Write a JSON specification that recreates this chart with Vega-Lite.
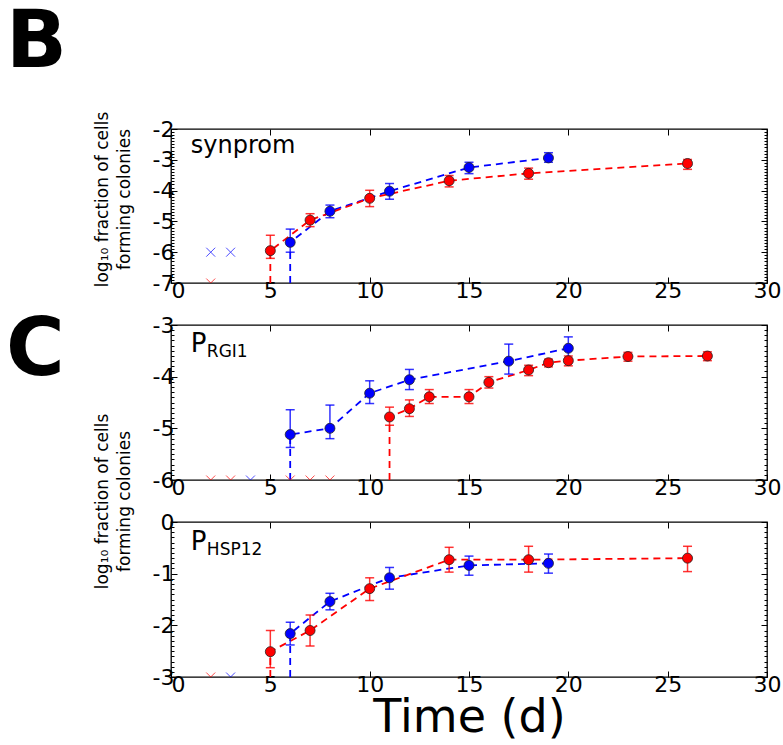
{
  "$schema": "https://vega.github.io/schema/vega-lite/v6.json",
  "background": "white",
  "padding": {"left": 5, "top": 2, "right": 5, "bottom": 0},
  "config": {
    "font": "DejaVu Sans",
    "view": {"stroke": "black", "strokeWidth": 1.3},
    "axis": {"labelFont": "DejaVu Sans", "titleFont": "DejaVu Sans", "labelColor": "black", "titleColor": "black", "tickColor": "black", "grid": false, "domain": false, "labelFontSize": 22, "titleFontWeight": "normal", "tickWidth": 1, "labelOverlap": false},
    "title": {"font": "DejaVu Sans", "color": "black"}
  },
  "datasets": {
    "d": [
      {"p": "B", "s": "blue", "d": 6, "y": -7, "lo": null, "hi": null, "k": "start"},
      {"p": "B", "s": "blue", "d": 6, "y": -5.68, "lo": -6.0, "hi": -5.25, "k": "pt"},
      {"p": "B", "s": "blue", "d": 8, "y": -4.67, "lo": -4.88, "hi": -4.47, "k": "pt"},
      {"p": "B", "s": "blue", "d": 11, "y": -4.02, "lo": -4.28, "hi": -3.77, "k": "pt"},
      {"p": "B", "s": "blue", "d": 15, "y": -3.25, "lo": -3.45, "hi": -3.08, "k": "pt"},
      {"p": "B", "s": "blue", "d": 19, "y": -2.94, "lo": -3.08, "hi": -2.77, "k": "pt"},
      {"p": "B", "s": "blue", "d": 2, "y": -6, "lo": null, "hi": null, "k": "nd"},
      {"p": "B", "s": "blue", "d": 3, "y": -6, "lo": null, "hi": null, "k": "nd"},
      {"p": "B", "s": "red", "d": 5, "y": -7, "lo": null, "hi": null, "k": "start"},
      {"p": "B", "s": "red", "d": 5, "y": -5.95, "lo": -6.2, "hi": -5.45, "k": "pt"},
      {"p": "B", "s": "red", "d": 7, "y": -4.96, "lo": -5.17, "hi": -4.75, "k": "pt"},
      {"p": "B", "s": "red", "d": 10, "y": -4.25, "lo": -4.52, "hi": -3.99, "k": "pt"},
      {"p": "B", "s": "red", "d": 14, "y": -3.68, "lo": -3.88, "hi": -3.51, "k": "pt"},
      {"p": "B", "s": "red", "d": 18, "y": -3.44, "lo": -3.63, "hi": -3.27, "k": "pt"},
      {"p": "B", "s": "red", "d": 26, "y": -3.12, "lo": -3.31, "hi": -2.99, "k": "pt"},
      {"p": "B", "s": "red", "d": 2, "y": -7, "lo": null, "hi": null, "k": "nd"},

      {"p": "C1", "s": "blue", "d": 6, "y": -6, "lo": null, "hi": null, "k": "start"},
      {"p": "C1", "s": "blue", "d": 6, "y": -5.12, "lo": -5.37, "hi": -4.64, "k": "pt"},
      {"p": "C1", "s": "blue", "d": 8, "y": -5.0, "lo": -5.2, "hi": -4.55, "k": "pt"},
      {"p": "C1", "s": "blue", "d": 10, "y": -4.32, "lo": -4.52, "hi": -4.08, "k": "pt"},
      {"p": "C1", "s": "blue", "d": 12, "y": -4.06, "lo": -4.25, "hi": -3.86, "k": "pt"},
      {"p": "C1", "s": "blue", "d": 17, "y": -3.7, "lo": -3.95, "hi": -3.37, "k": "pt"},
      {"p": "C1", "s": "blue", "d": 20, "y": -3.45, "lo": -3.67, "hi": -3.23, "k": "pt"},
      {"p": "C1", "s": "blue", "d": 4, "y": -6, "lo": null, "hi": null, "k": "nd"},
      {"p": "C1", "s": "red", "d": 11, "y": -6, "lo": null, "hi": null, "k": "start"},
      {"p": "C1", "s": "red", "d": 11, "y": -4.78, "lo": -4.94, "hi": -4.59, "k": "pt"},
      {"p": "C1", "s": "red", "d": 12, "y": -4.62, "lo": -4.77, "hi": -4.45, "k": "pt"},
      {"p": "C1", "s": "red", "d": 13, "y": -4.39, "lo": -4.52, "hi": -4.25, "k": "pt"},
      {"p": "C1", "s": "red", "d": 15, "y": -4.39, "lo": -4.52, "hi": -4.25, "k": "pt"},
      {"p": "C1", "s": "red", "d": 16, "y": -4.11, "lo": -4.22, "hi": -4.0, "k": "pt"},
      {"p": "C1", "s": "red", "d": 18, "y": -3.87, "lo": -3.98, "hi": -3.78, "k": "pt"},
      {"p": "C1", "s": "red", "d": 19, "y": -3.73, "lo": -3.81, "hi": -3.66, "k": "pt"},
      {"p": "C1", "s": "red", "d": 20, "y": -3.69, "lo": -3.79, "hi": -3.6, "k": "pt"},
      {"p": "C1", "s": "red", "d": 23, "y": -3.61, "lo": -3.7, "hi": -3.53, "k": "pt"},
      {"p": "C1", "s": "red", "d": 27, "y": -3.6, "lo": -3.69, "hi": -3.52, "k": "pt"},
      {"p": "C1", "s": "red", "d": 2, "y": -6, "lo": null, "hi": null, "k": "nd"},
      {"p": "C1", "s": "red", "d": 3, "y": -6, "lo": null, "hi": null, "k": "nd"},
      {"p": "C1", "s": "red", "d": 6, "y": -6, "lo": null, "hi": null, "k": "nd"},
      {"p": "C1", "s": "red", "d": 7, "y": -6, "lo": null, "hi": null, "k": "nd"},
      {"p": "C1", "s": "red", "d": 8, "y": -6, "lo": null, "hi": null, "k": "nd"},

      {"p": "C2", "s": "blue", "d": 6, "y": -3, "lo": null, "hi": null, "k": "start"},
      {"p": "C2", "s": "blue", "d": 6, "y": -2.16, "lo": -2.38, "hi": -1.94, "k": "pt"},
      {"p": "C2", "s": "blue", "d": 8, "y": -1.54, "lo": -1.7, "hi": -1.38, "k": "pt"},
      {"p": "C2", "s": "blue", "d": 11, "y": -1.08, "lo": -1.3, "hi": -0.88, "k": "pt"},
      {"p": "C2", "s": "blue", "d": 15, "y": -0.84, "lo": -1.03, "hi": -0.66, "k": "pt"},
      {"p": "C2", "s": "blue", "d": 19, "y": -0.8, "lo": -0.99, "hi": -0.62, "k": "pt"},
      {"p": "C2", "s": "blue", "d": 3, "y": -3, "lo": null, "hi": null, "k": "nd"},
      {"p": "C2", "s": "red", "d": 5, "y": -3, "lo": null, "hi": null, "k": "start"},
      {"p": "C2", "s": "red", "d": 5, "y": -2.51, "lo": -2.82, "hi": -2.1, "k": "pt"},
      {"p": "C2", "s": "red", "d": 7, "y": -2.1, "lo": -2.4, "hi": -1.8, "k": "pt"},
      {"p": "C2", "s": "red", "d": 10, "y": -1.29, "lo": -1.52, "hi": -1.08, "k": "pt"},
      {"p": "C2", "s": "red", "d": 14, "y": -0.73, "lo": -0.97, "hi": -0.49, "k": "pt"},
      {"p": "C2", "s": "red", "d": 18, "y": -0.73, "lo": -0.97, "hi": -0.47, "k": "pt"},
      {"p": "C2", "s": "red", "d": 26, "y": -0.7, "lo": -0.96, "hi": -0.47, "k": "pt"},
      {"p": "C2", "s": "red", "d": 2, "y": -3, "lo": null, "hi": null, "k": "nd"}
    ]
  },
  "spacing": 42,
  "bounds": "flush",
  "vconcat": [
    {
      "width": 596, "height": 154,
      "title": {"text": "B", "anchor": "start", "frame": "group", "fontSize": 80, "fontWeight": "bold", "dx": -165, "offset": 0, "dy": 36, "baseline": "alphabetic"},
      "data": {"name": "d"},
      "resolve": {"axis": {"x": "independent", "y": "independent"}},
      "layer": [
        {"transform": [{"filter": "datum.p == 'B' && datum.k != 'nd'"}],
         "mark": {"type": "line", "strokeDash": [7, 5], "strokeWidth": 1.8},
         "encoding": {
           "x": {"field": "d", "type": "quantitative", "scale": {"domain": [0, 30], "nice": false},
                 "axis": {"orient": "bottom", "values": [0, 5, 10, 15, 20, 25, 30], "title": null, "tickSize": -6, "labelPadding": 3, "labelAlign": {"condition": {"test": "datum.value == 0", "value": "left"}, "value": "center"}}},
           "y": {"field": "y", "type": "quantitative", "scale": {"domain": [-7, -2], "nice": false},
                 "axis": {"orient": "left", "values": [-7,-6.9,-6.8,-6.7,-6.6,-6.5,-6.4,-6.3,-6.2,-6.1,-6,-5.9,-5.8,-5.7,-5.6,-5.5,-5.4,-5.3,-5.2,-5.1,-5,-4.9,-4.8,-4.7,-4.6,-4.5,-4.4,-4.3,-4.2,-4.1,-4,-3.9,-3.8,-3.7,-3.6,-3.5,-3.4,-3.3,-3.2,-3.1,-3,-2.9,-2.8,-2.7,-2.6,-2.5,-2.4,-2.3,-2.2,-2.1,-2],
                          "labelExpr": "abs(datum.value - round(datum.value)) < 0.001 ? '' + datum.value : ''", "labelOverlap": false, "labelPadding": 3,
                          "tickSize": {"condition": {"test": "abs(datum.value - round(datum.value)) < 0.001", "value": -6}, "value": -3},
                          "title": ["log₁₀ fraction of cells", "forming colonies"], "titleFontSize": 17, "titleLineHeight": 22, "titlePadding": 19, "titleY": 70}},
           "color": {"field": "s", "type": "nominal", "scale": {"domain": ["blue", "red"], "range": ["#0000ff", "#ff0000"]}, "legend": null},
           "order": [{"field": "d"}, {"field": "y"}]
         }},
        {"transform": [{"filter": "datum.p == 'B' && datum.k == 'pt'"}],
         "mark": {"type": "rule", "strokeWidth": 1.5, "opacity": 0.8},
         "encoding": {
           "x": {"field": "d", "type": "quantitative", "axis": {"orient": "top", "values": [0, 5, 10, 15, 20, 25, 30], "labels": false, "title": null, "tickSize": -6}},
           "y": {"field": "lo", "type": "quantitative",
                 "axis": {"orient": "right", "values": [-7,-6.9,-6.8,-6.7,-6.6,-6.5,-6.4,-6.3,-6.2,-6.1,-6,-5.9,-5.8,-5.7,-5.6,-5.5,-5.4,-5.3,-5.2,-5.1,-5,-4.9,-4.8,-4.7,-4.6,-4.5,-4.4,-4.3,-4.2,-4.1,-4,-3.9,-3.8,-3.7,-3.6,-3.5,-3.4,-3.3,-3.2,-3.1,-3,-2.9,-2.8,-2.7,-2.6,-2.5,-2.4,-2.3,-2.2,-2.1,-2],
                          "labels": false, "title": null,
                          "tickSize": {"condition": {"test": "abs(datum.value - round(datum.value)) < 0.001", "value": -6}, "value": -3}}},
           "y2": {"field": "hi"},
           "color": {"field": "s", "type": "nominal", "legend": null}}},
        {"transform": [{"filter": "datum.p == 'B' && datum.k == 'pt'"}],
         "mark": {"type": "tick", "orient": "horizontal", "size": 9, "thickness": 1.5, "opacity": 0.8},
         "encoding": {"x": {"field": "d", "type": "quantitative", "axis": null}, "y": {"field": "lo", "type": "quantitative", "axis": null}, "color": {"field": "s", "type": "nominal", "legend": null}}},
        {"transform": [{"filter": "datum.p == 'B' && datum.k == 'pt'"}],
         "mark": {"type": "tick", "orient": "horizontal", "size": 9, "thickness": 1.5, "opacity": 0.8},
         "encoding": {"x": {"field": "d", "type": "quantitative", "axis": null}, "y": {"field": "hi", "type": "quantitative", "axis": null}, "color": {"field": "s", "type": "nominal", "legend": null}}},
        {"transform": [{"filter": "datum.p == 'B' && datum.k == 'pt'"}],
         "mark": {"type": "point", "shape": "circle", "filled": true, "size": 100, "opacity": 1, "stroke": "#222222", "strokeWidth": 0.8},
         "encoding": {"x": {"field": "d", "type": "quantitative", "axis": null}, "y": {"field": "y", "type": "quantitative", "axis": null}, "color": {"field": "s", "type": "nominal", "legend": null}}},
        {"transform": [{"filter": "datum.p == 'B' && datum.k == 'nd'"}],
         "mark": {"type": "point", "shape": "M-1,-1L1,1M-1,1L1,-1", "filled": false, "size": 80, "strokeWidth": 1, "clip": true},
         "encoding": {"x": {"field": "d", "type": "quantitative", "axis": null}, "y": {"field": "y", "type": "quantitative", "axis": null}, "color": {"field": "s", "type": "nominal", "legend": null}}},
        {"data": {"values": [{"t": "synprom"}]},
         "mark": {"type": "text", "fontSize": 24, "align": "left", "baseline": "alphabetic", "color": "black"},
         "encoding": {"text": {"field": "t"}, "x": {"datum": 1, "type": "quantitative", "axis": null}, "y": {"datum": -2.78, "type": "quantitative", "axis": null}}}
      ]
    },
    {
      "width": 596, "height": 155,
      "title": {"text": "C", "anchor": "start", "frame": "group", "fontSize": 80, "fontWeight": "bold", "dx": -165, "offset": 0, "dy": 141, "baseline": "alphabetic"},
      "data": {"name": "d"},
      "resolve": {"axis": {"x": "independent", "y": "independent"}},
      "layer": [
        {"transform": [{"filter": "datum.p == 'C1' && datum.k != 'nd'"}],
         "mark": {"type": "line", "strokeDash": [7, 5], "strokeWidth": 1.8},
         "encoding": {
           "x": {"field": "d", "type": "quantitative", "scale": {"domain": [0, 30], "nice": false},
                 "axis": {"orient": "bottom", "values": [0, 5, 10, 15, 20, 25, 30], "title": null, "tickSize": -6, "labelPadding": 3, "labelAlign": {"condition": {"test": "datum.value == 0", "value": "left"}, "value": "center"}}},
           "y": {"field": "y", "type": "quantitative", "scale": {"domain": [-6, -3], "nice": false},
                 "axis": {"orient": "left", "values": [-6,-5.9,-5.8,-5.7,-5.6,-5.5,-5.4,-5.3,-5.2,-5.1,-5,-4.9,-4.8,-4.7,-4.6,-4.5,-4.4,-4.3,-4.2,-4.1,-4,-3.9,-3.8,-3.7,-3.6,-3.5,-3.4,-3.3,-3.2,-3.1,-3],
                          "labelExpr": "abs(datum.value - round(datum.value)) < 0.001 ? '' + datum.value : ''", "labelOverlap": false, "labelPadding": 3,
                          "tickSize": {"condition": {"test": "abs(datum.value - round(datum.value)) < 0.001", "value": -6}, "value": -3},
                          "title": ["log₁₀ fraction of cells", "forming colonies"], "titleFontSize": 17, "titleLineHeight": 22, "titlePadding": 19, "titleY": 176}},
           "color": {"field": "s", "type": "nominal", "scale": {"domain": ["blue", "red"], "range": ["#0000ff", "#ff0000"]}, "legend": null},
           "order": [{"field": "d"}, {"field": "y"}]
         }},
        {"transform": [{"filter": "datum.p == 'C1' && datum.k == 'pt'"}],
         "mark": {"type": "rule", "strokeWidth": 1.5, "opacity": 0.8},
         "encoding": {
           "x": {"field": "d", "type": "quantitative", "axis": {"orient": "top", "values": [0, 5, 10, 15, 20, 25, 30], "labels": false, "title": null, "tickSize": -6}},
           "y": {"field": "lo", "type": "quantitative",
                 "axis": {"orient": "right", "values": [-6,-5.9,-5.8,-5.7,-5.6,-5.5,-5.4,-5.3,-5.2,-5.1,-5,-4.9,-4.8,-4.7,-4.6,-4.5,-4.4,-4.3,-4.2,-4.1,-4,-3.9,-3.8,-3.7,-3.6,-3.5,-3.4,-3.3,-3.2,-3.1,-3],
                          "labels": false, "title": null,
                          "tickSize": {"condition": {"test": "abs(datum.value - round(datum.value)) < 0.001", "value": -6}, "value": -3}}},
           "y2": {"field": "hi"},
           "color": {"field": "s", "type": "nominal", "legend": null}}},
        {"transform": [{"filter": "datum.p == 'C1' && datum.k == 'pt'"}],
         "mark": {"type": "tick", "orient": "horizontal", "size": 9, "thickness": 1.5, "opacity": 0.8},
         "encoding": {"x": {"field": "d", "type": "quantitative", "axis": null}, "y": {"field": "lo", "type": "quantitative", "axis": null}, "color": {"field": "s", "type": "nominal", "legend": null}}},
        {"transform": [{"filter": "datum.p == 'C1' && datum.k == 'pt'"}],
         "mark": {"type": "tick", "orient": "horizontal", "size": 9, "thickness": 1.5, "opacity": 0.8},
         "encoding": {"x": {"field": "d", "type": "quantitative", "axis": null}, "y": {"field": "hi", "type": "quantitative", "axis": null}, "color": {"field": "s", "type": "nominal", "legend": null}}},
        {"transform": [{"filter": "datum.p == 'C1' && datum.k == 'pt'"}],
         "mark": {"type": "point", "shape": "circle", "filled": true, "size": 100, "opacity": 1, "stroke": "#222222", "strokeWidth": 0.8},
         "encoding": {"x": {"field": "d", "type": "quantitative", "axis": null}, "y": {"field": "y", "type": "quantitative", "axis": null}, "color": {"field": "s", "type": "nominal", "legend": null}}},
        {"transform": [{"filter": "datum.p == 'C1' && datum.k == 'nd'"}],
         "mark": {"type": "point", "shape": "M-1,-1L1,1M-1,1L1,-1", "filled": false, "size": 80, "strokeWidth": 1, "clip": true},
         "encoding": {"x": {"field": "d", "type": "quantitative", "axis": null}, "y": {"field": "y", "type": "quantitative", "axis": null}, "color": {"field": "s", "type": "nominal", "legend": null}}},
        {"data": {"values": [{"t": "P"}]},
         "mark": {"type": "text", "fontSize": 26, "align": "left", "baseline": "alphabetic", "color": "black"},
         "encoding": {"text": {"field": "t"}, "x": {"datum": 1, "type": "quantitative", "axis": null}, "y": {"datum": -3.52, "type": "quantitative", "axis": null}}},
        {"data": {"values": [{"t": "RGI1"}]},
         "mark": {"type": "text", "fontSize": 17, "align": "left", "baseline": "alphabetic", "color": "black", "dx": 16, "dy": 5},
         "encoding": {"text": {"field": "t"}, "x": {"datum": 1, "type": "quantitative", "axis": null}, "y": {"datum": -3.52, "type": "quantitative", "axis": null}}}
      ]
    },
    {
      "width": 596, "height": 155,
      "data": {"name": "d"},
      "resolve": {"axis": {"x": "independent", "y": "independent"}},
      "layer": [
        {"transform": [{"filter": "datum.p == 'C2' && datum.k != 'nd'"}],
         "mark": {"type": "line", "strokeDash": [7, 5], "strokeWidth": 1.8},
         "encoding": {
           "x": {"field": "d", "type": "quantitative", "scale": {"domain": [0, 30], "nice": false},
                 "axis": {"orient": "bottom", "values": [0, 5, 10, 15, 20, 25, 30], "title": "Time (d)", "titleFontSize": 46, "titlePadding": 0, "tickSize": -6, "labelPadding": 3, "labelAlign": {"condition": {"test": "datum.value == 0", "value": "left"}, "value": "center"}}},
           "y": {"field": "y", "type": "quantitative", "scale": {"domain": [-3, 0], "nice": false},
                 "axis": {"orient": "left", "values": [-3,-2.9,-2.8,-2.7,-2.6,-2.5,-2.4,-2.3,-2.2,-2.1,-2,-1.9,-1.8,-1.7,-1.6,-1.5,-1.4,-1.3,-1.2,-1.1,-1,-0.9,-0.8,-0.7,-0.6,-0.5,-0.4,-0.3,-0.2,-0.1,0],
                          "labelExpr": "abs(datum.value - round(datum.value)) < 0.001 ? '' + datum.value : ''", "labelOverlap": false, "labelPadding": 3,
                          "tickSize": {"condition": {"test": "abs(datum.value - round(datum.value)) < 0.001", "value": -6}, "value": -3},
                          "title": null}},
           "color": {"field": "s", "type": "nominal", "scale": {"domain": ["blue", "red"], "range": ["#0000ff", "#ff0000"]}, "legend": null},
           "order": [{"field": "d"}, {"field": "y"}]
         }},
        {"transform": [{"filter": "datum.p == 'C2' && datum.k == 'pt'"}],
         "mark": {"type": "rule", "strokeWidth": 1.5, "opacity": 0.8},
         "encoding": {
           "x": {"field": "d", "type": "quantitative", "axis": {"orient": "top", "values": [0, 5, 10, 15, 20, 25, 30], "labels": false, "title": null, "tickSize": -6}},
           "y": {"field": "lo", "type": "quantitative",
                 "axis": {"orient": "right", "values": [-3,-2.9,-2.8,-2.7,-2.6,-2.5,-2.4,-2.3,-2.2,-2.1,-2,-1.9,-1.8,-1.7,-1.6,-1.5,-1.4,-1.3,-1.2,-1.1,-1,-0.9,-0.8,-0.7,-0.6,-0.5,-0.4,-0.3,-0.2,-0.1,0],
                          "labels": false, "title": null,
                          "tickSize": {"condition": {"test": "abs(datum.value - round(datum.value)) < 0.001", "value": -6}, "value": -3}}},
           "y2": {"field": "hi"},
           "color": {"field": "s", "type": "nominal", "legend": null}}},
        {"transform": [{"filter": "datum.p == 'C2' && datum.k == 'pt'"}],
         "mark": {"type": "tick", "orient": "horizontal", "size": 9, "thickness": 1.5, "opacity": 0.8},
         "encoding": {"x": {"field": "d", "type": "quantitative", "axis": null}, "y": {"field": "lo", "type": "quantitative", "axis": null}, "color": {"field": "s", "type": "nominal", "legend": null}}},
        {"transform": [{"filter": "datum.p == 'C2' && datum.k == 'pt'"}],
         "mark": {"type": "tick", "orient": "horizontal", "size": 9, "thickness": 1.5, "opacity": 0.8},
         "encoding": {"x": {"field": "d", "type": "quantitative", "axis": null}, "y": {"field": "hi", "type": "quantitative", "axis": null}, "color": {"field": "s", "type": "nominal", "legend": null}}},
        {"transform": [{"filter": "datum.p == 'C2' && datum.k == 'pt'"}],
         "mark": {"type": "point", "shape": "circle", "filled": true, "size": 100, "opacity": 1, "stroke": "#222222", "strokeWidth": 0.8},
         "encoding": {"x": {"field": "d", "type": "quantitative", "axis": null}, "y": {"field": "y", "type": "quantitative", "axis": null}, "color": {"field": "s", "type": "nominal", "legend": null}}},
        {"transform": [{"filter": "datum.p == 'C2' && datum.k == 'nd'"}],
         "mark": {"type": "point", "shape": "M-1,-1L1,1M-1,1L1,-1", "filled": false, "size": 80, "strokeWidth": 1, "clip": true},
         "encoding": {"x": {"field": "d", "type": "quantitative", "axis": null}, "y": {"field": "y", "type": "quantitative", "axis": null}, "color": {"field": "s", "type": "nominal", "legend": null}}},
        {"data": {"values": [{"t": "P"}]},
         "mark": {"type": "text", "fontSize": 26, "align": "left", "baseline": "alphabetic", "color": "black"},
         "encoding": {"text": {"field": "t"}, "x": {"datum": 1, "type": "quantitative", "axis": null}, "y": {"datum": -0.54, "type": "quantitative", "axis": null}}},
        {"data": {"values": [{"t": "HSP12"}]},
         "mark": {"type": "text", "fontSize": 17, "align": "left", "baseline": "alphabetic", "color": "black", "dx": 16, "dy": 5},
         "encoding": {"text": {"field": "t"}, "x": {"datum": 1, "type": "quantitative", "axis": null}, "y": {"datum": -0.54, "type": "quantitative", "axis": null}}}
      ]
    }
  ]
}
